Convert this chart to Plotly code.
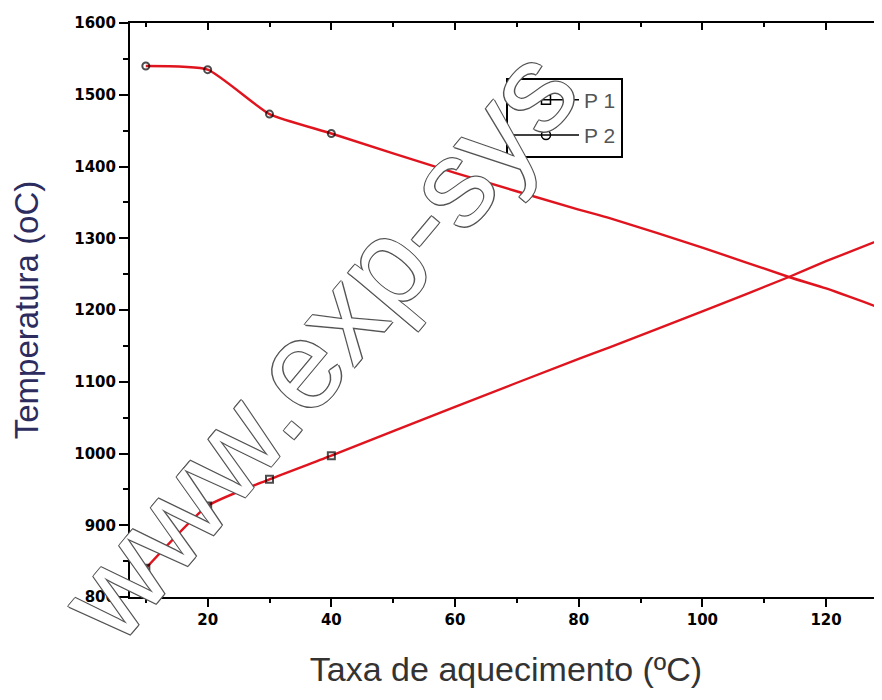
import plotly.graph_objects as go

# Data
x_vals = [10, 20, 30, 40, 60, 80, 85, 100, 114, 120, 130]
p1_vals = [840, 927, 964, 997, 1065, 1132, 1148, 1198, 1246, 1268, 1302]
x2_vals = [10, 20, 30, 40, 60, 80, 85, 100, 114, 120, 130]
p2_vals = [1540, 1535, 1473, 1446, 1391, 1340, 1328, 1287, 1246, 1230, 1199]
n_marked = 4
y_ticks = [800, 900, 1000, 1100, 1200, 1300, 1400, 1500, 1600]
x_ticks = [20, 40, 60, 80, 100, 120]

RED = "#e0141e"
fig = go.Figure()

def sizes(n):
    return [7 if i < n_marked else 0 for i in range(n)]

fig.add_trace(go.Scatter(x=x_vals, y=p1_vals, mode="lines+markers", showlegend=False,
                         line=dict(color=RED, width=2.4, shape="spline", smoothing=0.5),
                         marker=dict(symbol="square-open", size=sizes(len(x_vals)), color="black",
                                     line=dict(width=2, color="black"))))
fig.add_trace(go.Scatter(x=x2_vals, y=p2_vals, mode="lines+markers", showlegend=False,
                         line=dict(color=RED, width=2.4, shape="spline", smoothing=0.5),
                         marker=dict(symbol="circle-open", size=sizes(len(x2_vals)), color="black",
                                     line=dict(width=2, color="black"))))
# legend entries
fig.add_trace(go.Scatter(x=[None], y=[None], mode="lines+markers", name="P 1", legendgroup="a",
                         line=dict(color="black", width=1.5),
                         marker=dict(symbol="square-open", size=9, color="black", line=dict(width=1.5))))
fig.add_trace(go.Scatter(x=[None], y=[None], mode="lines+markers", name="P 2", legendgroup="b",
                         line=dict(color="black", width=1.5),
                         marker=dict(symbol="circle-open", size=9, color="black", line=dict(width=1.5))))
# dummy for top axis
fig.add_trace(go.Scatter(x=[None], y=[None], xaxis="x2", showlegend=False))

tickfont = dict(family="DejaVu Sans", size=15, color="black", weight="bold")
fig.update_layout(
    width=874, height=680,
    margin=dict(l=122, r=0, t=15, b=91, autoexpand=False),
    paper_bgcolor="white", plot_bgcolor="white",
    showlegend=True,
    legend=dict(x=0.5, y=0.905, xanchor="left", yanchor="top",
                bordercolor="black", borderwidth=2, bgcolor="rgba(255,255,255,0)",
                font=dict(family="Liberation Sans", size=21, color="#555"),
                tracegroupgap=5, itemwidth=66),
    xaxis=dict(range=[7.44, 129.05], tickvals=x_ticks, ticktext=[str(v) for v in x_ticks],
               ticks="outside", ticklen=8, tickwidth=2, tickcolor="black",
               minor=dict(tickvals=[10, 30, 50, 70, 90, 110, 130], ticks="outside", ticklen=4, tickwidth=1.5, tickcolor="black"),
               showline=True, linewidth=2, linecolor="black", showgrid=False, zeroline=False,
               tickfont=tickfont, automargin=False,
               title=dict(text="Taxa de aquecimento (ºC)", standoff=36,
                          font=dict(family="Liberation Sans", size=34, color="#333"))),
    xaxis2=dict(overlaying="x", side="top", range=[7.44, 129.05], tickvals=x_ticks,
                showticklabels=False, ticks="inside", ticklen=7, tickwidth=2, tickcolor="black",
                minor=dict(tickvals=[10, 30, 50, 70, 90, 110, 130], ticks="inside", ticklen=4, tickwidth=1.5, tickcolor="black"),
                showline=True, linewidth=2, linecolor="black", showgrid=False, zeroline=False,
                automargin=False),
    yaxis=dict(range=[800, 1600], tickvals=y_ticks, ticktext=[str(v) for v in y_ticks],
               ticks="outside", ticklen=9, tickwidth=2, tickcolor="black",
               minor=dict(dtick=50, ticks="outside", ticklen=5, tickwidth=1.5, tickcolor="black"),
               showline=True, linewidth=2, linecolor="black", showgrid=False, zeroline=False,
               tickfont=tickfont, automargin=False,
               title=dict(text="Temperatura (oC)", standoff=36,
                          font=dict(family="Liberation Sans", size=33, color="#2c2c5e"))),
)

fig.add_annotation(text="www.exp-sys", xref="paper", yref="paper", x=0.25, y=0.44,
                   xanchor="center", yanchor="middle",
                   showarrow=False, textangle=-50,
                   font=dict(family="Liberation Sans", size=124, color="white",
                             shadow="1px 1px 0 #555, -1px -1px 0 #555, 1px -1px 0 #555, -1px 1px 0 #555"))

fig.write_html("out.html")
